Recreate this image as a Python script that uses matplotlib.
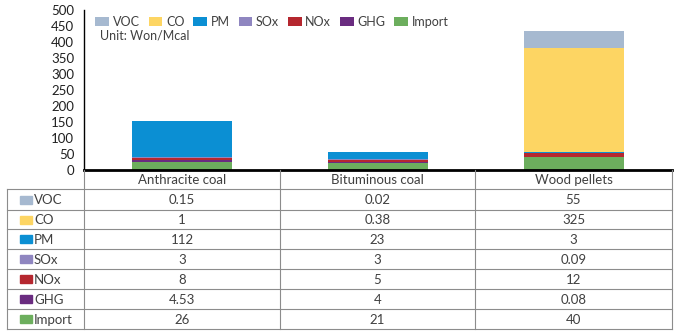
import matplotlib
matplotlib.use("Agg")
import matplotlib.pyplot as plt
from matplotlib.patches import Rectangle

plt.rcParams['font.family'] = ['Lato', 'DejaVu Sans']

# --- data (Won/Mcal) ---
fuels = ["Anthracite coal", "Bituminous coal", "Wood pellets"]
series = ["VOC", "CO", "PM", "SOx", "NOx", "GHG", "Import"]
voc = [0.15, 0.02, 55]
co = [1, 0.38, 325]
pm = [112, 23, 3]
sox = [3, 3, 0.09]
nox = [8, 5, 12]
ghg = [4.53, 4, 0.08]
imp = [26, 21, 40]
# text shown in the table cells
cell_text = [
    ["0.15", "0.02", "55"],
    ["1", "0.38", "325"],
    ["112", "23", "3"],
    ["3", "3", "0.09"],
    ["8", "5", "12"],
    ["4.53", "4", "0.08"],
    ["26", "21", "40"],
]
colors = {"VOC": "#a6b9d0", "CO": "#fdd563", "PM": "#0b8fd3", "SOx": "#8f86c0",
          "NOx": "#b5272f", "GHG": "#6a2c80", "Import": "#6cae5d"}
values = {"VOC": voc, "CO": co, "PM": pm, "SOx": sox, "NOx": nox, "GHG": ghg, "Import": imp}

W, H = 677, 335
fig = plt.figure(figsize=(W / 100, H / 100), dpi=100)
txt = "#404040"

# chart area, aligned to the table columns
x0, x1, ytop, ybot = 84, 672, 10, 170
ax = fig.add_axes([x0 / W, 1 - ybot / H, (x1 - x0) / W, (ybot - ytop) / H])
pos = [0.5, 1.5, 2.5]
bottom = [0, 0, 0]
for name in reversed(series):
    v = values[name]
    ax.bar(pos, v, width=0.51, bottom=bottom, color=colors[name], label=name)
    bottom = [b + x for b, x in zip(bottom, v)]
ax.set_xlim(0, 3)
ax.set_ylim(0, 500)
ax.set_yticks(range(0, 501, 50))
ax.set_xticks([])
ax.tick_params(axis='y', length=0, labelsize=9.5, labelcolor="#202020", pad=7)
for s in ["top", "right"]:
    ax.spines[s].set_visible(False)
ax.spines["left"].set_linewidth(1.0)
ax.spines["bottom"].set_linewidth(2.0)
ax.patch.set_alpha(0)

handles, labels = ax.get_legend_handles_labels()
order = [labels.index(s) for s in series]
ax.legend([handles[i] for i in order], series, loc="upper left", ncol=7,
          bbox_to_anchor=(0.0, 1.035), frameon=False, fontsize=9,
          handlelength=1.1, handleheight=0.8, handletextpad=0.3, columnspacing=0.7,
          labelcolor=txt)
ax.text(0.027, 0.84, "Unit: Won/Mcal", transform=ax.transAxes, fontsize=9,
        color=txt, va="center")

# data table below the chart, drawn in pixel coordinates
tb = fig.add_axes([0, 0, 1, 1])
tb.set_xlim(0, W)
tb.set_ylim(H, 0)
tb.axis("off")
grid = "#8c8c8c"
cols = [84, 280, 475, 672]
row_h = [170, 189, 210, 229, 249, 269, 289, 309, 329]
left = 7
# horizontal lines
for y in row_h[1:]:
    tb.plot([left, cols[-1]], [y, y], color=grid, lw=0.8)
# vertical lines
tb.plot([left, left], [row_h[1], row_h[-1]], color=grid, lw=0.8)
for c in cols:
    tb.plot([c, c], [row_h[0], row_h[-1]], color=grid, lw=0.8)

for j, f in enumerate(fuels):
    tb.text((cols[j] + cols[j + 1]) / 2, (row_h[0] + row_h[1]) / 2 + 1, f,
            ha="center", va="center", fontsize=9.5, color=txt)
for i, name in enumerate(series):
    yc = (row_h[i + 1] + row_h[i + 2]) / 2
    tb.add_patch(Rectangle((20, yc - 4), 12, 8, color=colors[name]))
    tb.text(34, yc + 0.5, name, ha="left", va="center", fontsize=9.5, color=txt)
    for j in range(3):
        tb.text((cols[j] + cols[j + 1]) / 2, yc + 0.5, cell_text[i][j],
                ha="center", va="center", fontsize=9.5, color=txt)

fig.savefig("out.png", dpi=100)
